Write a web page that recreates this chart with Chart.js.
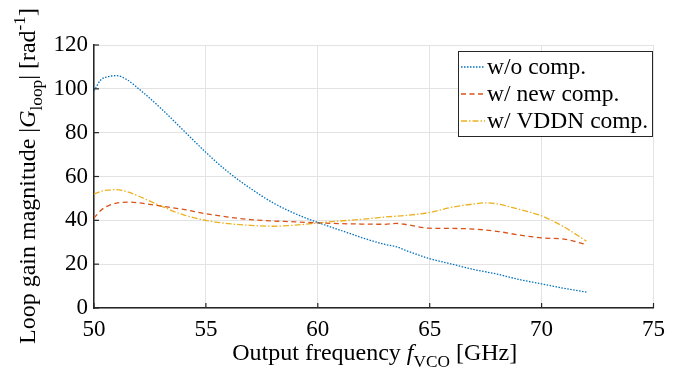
<!DOCTYPE html>
<html><head><meta charset="utf-8">
<script src="https://cdn.jsdelivr.net/npm/chart.js@4/dist/chart.umd.min.js"></script>
<style>html,body{margin:0;padding:0;background:#fff}#c{display:block}</style>
</head><body>
<canvas id="c" width="673" height="382"></canvas>
<script>
const seriesLabels = ['w/o comp.', 'w/ new comp.', 'w/ VDDN comp.'];
const xTicks = [50, 55, 60, 65, 70, 75];
const yTicks = [0, 20, 40, 60, 80, 100, 120];

const freqNoComp = [50, 50.3, 50.6, 51, 51.5, 52, 53, 54, 55, 56, 57, 58, 59, 60, 61, 62, 63, 63.5, 64, 65, 66, 67, 68, 69, 70, 71, 72];
const gainNoComp = [99, 104, 105.5, 106, 104, 100, 91, 81, 71, 62, 54.5, 48, 43, 39, 35.5, 32, 29, 28, 26, 22.5, 20, 17.5, 15.5, 13, 11, 9, 7.3];

const freqNew = [50, 50.3, 50.6, 51, 51.5, 52, 53, 54, 55, 56, 57, 58, 59, 60, 61, 62, 63, 63.5, 64, 65, 66, 67, 68, 69, 70, 71, 72];
const gainNew = [41, 44.5, 46.5, 47.8, 48.3, 48, 46.5, 45, 43, 41.5, 40.3, 39.7, 39.3, 38.8, 38.5, 38.3, 38.2, 38.6, 38, 36.4, 36.3, 36, 35, 33.3, 32, 31.4, 29];

const freqVddn = [50, 50.3, 50.6, 51, 51.5, 52, 53, 54, 55, 56, 57, 58, 59, 60, 61, 62, 63, 64, 65, 66, 67, 67.5, 68, 69, 70, 71, 72];
const gainVddn = [52, 53.2, 53.8, 54, 53, 51, 46.5, 42.5, 40, 38.5, 37.7, 37.3, 37.8, 38.8, 39.7, 40.5, 41.5, 42.3, 43.6, 46, 47.5, 48, 47.5, 45, 42, 37, 30.5];

const colors = ['#0072BD', '#D95319', '#EDB120'];
const dashes = [[1.5, 1.5], [5, 3.5], [6, 2, 1.5, 2]];
const FONT = '"Liberation Serif", "Times New Roman", serif';

function pts(xs, ys) { return xs.map((x, i) => ({x: x, y: ys[i]})); }

function drawRich(ctx, parts, x, y, size) {
  let total = 0;
  const items = parts.map(p => {
    const fs = p.sub || p.sup ? size * 0.72 : size;
    const f = (p.italic ? 'italic ' : '') + fs + 'px ' + FONT;
    ctx.font = f;
    const w = ctx.measureText(p.t).width;
    total += w;
    return {p, f, w};
  });
  let cx = x - total / 2;
  ctx.textBaseline = 'alphabetic';
  ctx.textAlign = 'left';
  items.forEach(it => {
    ctx.font = it.f;
    let dy = 0;
    if (it.p.sub) dy = size * 0.3;
    if (it.p.sup) dy = -size * 0.42;
    ctx.fillText(it.p.t, cx, y + dy);
    cx += it.w;
  });
}

const decor = {
  id: 'decor',
  afterDraw(chart) {
    const ctx = chart.ctx;
    const ca = chart.chartArea;
    const xs = chart.scales.x, ys = chart.scales.y;
    ctx.save();
    ctx.strokeStyle = '#262626';
    ctx.lineWidth = 1.2;
    xTicks.forEach(v => {
      const px = xs.getPixelForValue(v);
      ctx.beginPath(); ctx.moveTo(px, ca.bottom); ctx.lineTo(px, ca.bottom - 5); ctx.stroke();
    });
    yTicks.forEach(v => {
      const py = ys.getPixelForValue(v);
      ctx.beginPath(); ctx.moveTo(ca.left, py); ctx.lineTo(ca.left + 5, py); ctx.stroke();
    });
    ctx.fillStyle = '#000';
    drawRich(ctx, [
      {t: 'Output frequency '}, {t: 'f', italic: true}, {t: 'VCO', sub: true}, {t: ' [GHz]'}
    ], (ca.left + ca.right) / 2 + 1, 360, 24);
    ctx.save();
    ctx.translate(35, 176);
    ctx.rotate(-Math.PI / 2);
    drawRich(ctx, [
      {t: 'Loop gain magnitude |'}, {t: 'G', italic: true}, {t: 'loop', sub: true}, {t: '| [rad'}, {t: '-1', sup: true}, {t: ']'}
    ], 0, 0, 24);
    ctx.restore();
    const lx = 458, ly = 51, lw = 194, lh = 85;
    ctx.fillStyle = '#fff';
    ctx.fillRect(lx, ly, lw, lh);
    ctx.strokeStyle = '#262626';
    ctx.lineWidth = 1;
    ctx.strokeRect(lx + 0.5, ly + 0.5, lw, lh);
    const rows = [67, 94, 121];
    seriesLabels.forEach((lab, i) => {
      ctx.strokeStyle = colors[i];
      ctx.lineWidth = 1.3;
      ctx.setLineDash(dashes[i]);
      ctx.beginPath(); ctx.moveTo(461, rows[i]); ctx.lineTo(485, rows[i]); ctx.stroke();
      ctx.setLineDash([]);
      ctx.fillStyle = '#000';
      ctx.font = '23.5px ' + FONT;
      ctx.textAlign = 'left';
      ctx.textBaseline = 'middle';
      ctx.fillText(lab, 487, rows[i] + 1);
    });
    ctx.restore();
  }
};

new Chart(document.getElementById('c'), {
  type: 'line',
  data: {
    datasets: [
      {label: seriesLabels[0], data: pts(freqNoComp, gainNoComp)},
      {label: seriesLabels[1], data: pts(freqNew, gainNew)},
      {label: seriesLabels[2], data: pts(freqVddn, gainVddn)}
    ].map((d, i) => Object.assign(d, {
      borderColor: colors[i], borderWidth: 1.3, borderDash: dashes[i],
      pointRadius: 0, tension: 0.35, fill: false, cubicInterpolationMode: 'monotone'
    }))
  },
  options: {
    responsive: false,
    animation: false,
    layout: {padding: {top: 45, right: 16, left: 0, bottom: 0}},
    plugins: {legend: {display: false}, tooltip: {enabled: false}},
    scales: {
      x: {
        type: 'linear', min: 50, max: 75,
        afterFit: s => { s.height = 74; },
        afterBuildTicks: s => { s.ticks = xTicks.map(v => ({value: v})); },
        grid: {color: '#e3e3e3', lineWidth: 1, drawTicks: false},
        border: {display: true, color: '#262626', width: 1.5},
        ticks: {color: '#000', font: {family: FONT, size: 23}, padding: 8, maxRotation: 0}
      },
      y: {
        min: 0, max: 120,
        afterFit: s => { s.width = 94; },
        afterBuildTicks: s => { s.ticks = yTicks.map(v => ({value: v})); },
        grid: {color: '#e3e3e3', lineWidth: 1, drawTicks: false},
        border: {display: true, color: '#262626', width: 1.5},
        ticks: {color: '#000', font: {family: FONT, size: 23}, padding: 6}
      }
    }
  },
  plugins: [decor]
});
</script>
</body></html>
